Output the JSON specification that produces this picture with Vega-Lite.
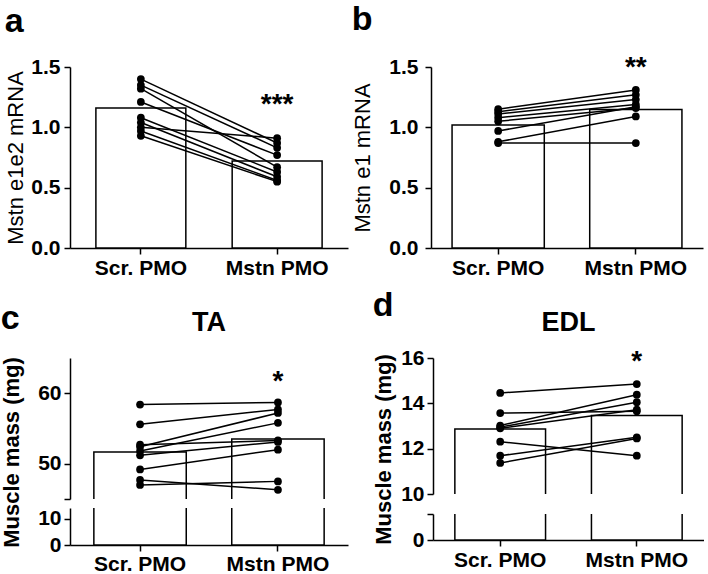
{
  "$schema": "https://vega.github.io/schema/vega-lite/v6.json",
  "background": "white",
  "padding": {"left": 0, "top": 3, "right": 0, "bottom": 0},
  "config": {
    "font": "Liberation Sans",
    "view": {"stroke": null},
    "axis": {
      "grid": false,
      "domainColor": "black", "domainWidth": 1.5,
      "tickColor": "black", "tickWidth": 1.5, "tickSize": 6,
      "labelColor": "black", "labelFont": "Liberation Sans", "labelFontSize": 21, "labelFontWeight": "bold", "labelPadding": 3,
      "titleColor": "black", "titleFont": "Liberation Sans", "titleFontSize": 22, "titleFontWeight": "bold"
    },
    "title": {"color": "black", "font": "Liberation Sans"}
  },
  "datasets": {
    "pa": [
      {"id": 1, "group": "Scr. PMO", "value": 1.40}, {"id": 1, "group": "Mstn PMO", "value": 0.87},
      {"id": 2, "group": "Scr. PMO", "value": 1.35}, {"id": 2, "group": "Mstn PMO", "value": 0.83},
      {"id": 3, "group": "Scr. PMO", "value": 1.32}, {"id": 3, "group": "Mstn PMO", "value": 0.67},
      {"id": 4, "group": "Scr. PMO", "value": 1.21}, {"id": 4, "group": "Mstn PMO", "value": 0.77},
      {"id": 5, "group": "Scr. PMO", "value": 1.08}, {"id": 5, "group": "Mstn PMO", "value": 0.63},
      {"id": 6, "group": "Scr. PMO", "value": 1.04}, {"id": 6, "group": "Mstn PMO", "value": 0.59},
      {"id": 7, "group": "Scr. PMO", "value": 1.00}, {"id": 7, "group": "Mstn PMO", "value": 0.91},
      {"id": 8, "group": "Scr. PMO", "value": 0.97}, {"id": 8, "group": "Mstn PMO", "value": 0.56},
      {"id": 9, "group": "Scr. PMO", "value": 0.93}, {"id": 9, "group": "Mstn PMO", "value": 0.55}
    ],
    "pb": [
      {"id": 1, "group": "Scr. PMO", "value": 1.15}, {"id": 1, "group": "Mstn PMO", "value": 1.31},
      {"id": 2, "group": "Scr. PMO", "value": 1.13}, {"id": 2, "group": "Mstn PMO", "value": 1.27},
      {"id": 3, "group": "Scr. PMO", "value": 1.11}, {"id": 3, "group": "Mstn PMO", "value": 1.23},
      {"id": 4, "group": "Scr. PMO", "value": 1.08}, {"id": 4, "group": "Mstn PMO", "value": 1.19},
      {"id": 5, "group": "Scr. PMO", "value": 1.05}, {"id": 5, "group": "Mstn PMO", "value": 1.16},
      {"id": 6, "group": "Scr. PMO", "value": 0.97}, {"id": 6, "group": "Mstn PMO", "value": 1.17},
      {"id": 7, "group": "Scr. PMO", "value": 0.88}, {"id": 7, "group": "Mstn PMO", "value": 1.09},
      {"id": 8, "group": "Scr. PMO", "value": 0.87}, {"id": 8, "group": "Mstn PMO", "value": 0.87}
    ],
    "pc": [
      {"id": 1, "group": "Scr. PMO", "value": 58.4}, {"id": 1, "group": "Mstn PMO", "value": 58.7},
      {"id": 2, "group": "Scr. PMO", "value": 55.6}, {"id": 2, "group": "Mstn PMO", "value": 57.7},
      {"id": 3, "group": "Scr. PMO", "value": 52.7}, {"id": 3, "group": "Mstn PMO", "value": 53.3},
      {"id": 4, "group": "Scr. PMO", "value": 52.4}, {"id": 4, "group": "Mstn PMO", "value": 57.2},
      {"id": 5, "group": "Scr. PMO", "value": 51.8}, {"id": 5, "group": "Mstn PMO", "value": 55.8},
      {"id": 6, "group": "Scr. PMO", "value": 51.2}, {"id": 6, "group": "Mstn PMO", "value": 53.1},
      {"id": 7, "group": "Scr. PMO", "value": 49.2}, {"id": 7, "group": "Mstn PMO", "value": 52.0},
      {"id": 8, "group": "Scr. PMO", "value": 47.7}, {"id": 8, "group": "Mstn PMO", "value": 46.3},
      {"id": 9, "group": "Scr. PMO", "value": 47.0}, {"id": 9, "group": "Mstn PMO", "value": 47.5}
    ],
    "pd": [
      {"id": 1, "group": "Scr. PMO", "value": 14.46}, {"id": 1, "group": "Mstn PMO", "value": 14.85},
      {"id": 2, "group": "Scr. PMO", "value": 13.57}, {"id": 2, "group": "Mstn PMO", "value": 13.65},
      {"id": 3, "group": "Scr. PMO", "value": 13.02}, {"id": 3, "group": "Mstn PMO", "value": 14.38},
      {"id": 4, "group": "Scr. PMO", "value": 12.95}, {"id": 4, "group": "Mstn PMO", "value": 14.05},
      {"id": 5, "group": "Scr. PMO", "value": 12.90}, {"id": 5, "group": "Mstn PMO", "value": 13.72},
      {"id": 6, "group": "Scr. PMO", "value": 12.31}, {"id": 6, "group": "Mstn PMO", "value": 11.69},
      {"id": 7, "group": "Scr. PMO", "value": 11.69}, {"id": 7, "group": "Mstn PMO", "value": 12.50},
      {"id": 8, "group": "Scr. PMO", "value": 11.37}, {"id": 8, "group": "Mstn PMO", "value": 12.45}
    ],
    "ba": [{"group": "Scr. PMO", "value": 1.16}, {"group": "Mstn PMO", "value": 0.72}],
    "bb": [{"group": "Scr. PMO", "value": 1.02}, {"group": "Mstn PMO", "value": 1.148}],
    "bc": [{"group": "Scr. PMO", "value": 51.65}, {"group": "Mstn PMO", "value": 53.5}],
    "bd": [{"group": "Scr. PMO", "value": 12.87}, {"group": "Mstn PMO", "value": 13.46}],
    "sa": [{"group": "Mstn PMO", "value": 1.116, "label": "***"}],
    "sb": [{"group": "Mstn PMO", "value": 1.423, "label": "**"}],
    "sc": [{"group": "Mstn PMO", "value": 60.5, "label": "*"}],
    "sd": [{"group": "Mstn PMO", "value": 15.47, "label": "*"}]
  },
  "resolve": {"scale": {"x": "independent", "y": "independent"}},
  "spacing": 11,
  "vconcat": [
    {
      "resolve": {"scale": {"x": "independent", "y": "independent"}},
      "spacing": 3,
      "hconcat": [
        {
          "title": {"text": "a", "anchor": "start", "frame": "bounds", "fontSize": 34, "fontWeight": "bold", "offset": 17},
          "width": 278, "height": 181,
          "encoding": {
            "x": {"field": "group", "type": "nominal", "sort": ["Scr. PMO", "Mstn PMO"], "scale": {"paddingInner": 0.34, "paddingOuter": 0.19}, "axis": {"title": null, "labelAngle": 0}},
            "y": {"field": "value", "type": "quantitative", "scale": {"domain": [0, 1.5], "nice": false}, "axis": {"title": "Mstn e1e2 mRNA", "titleFontWeight": "normal", "values": [0, 0.5, 1, 1.5], "format": ".1f", "titlePadding": 3, "labelPadding": 4}}
          },
          "layer": [
            {"data": {"name": "ba"}, "mark": {"type": "bar", "fill": "white", "stroke": "black", "strokeWidth": 1.5}},
            {"data": {"name": "pa"}, "mark": {"type": "line", "color": "black", "strokeWidth": 1.5}, "encoding": {"detail": {"field": "id"}}},
            {"data": {"name": "pa"}, "mark": {"type": "circle", "color": "black", "opacity": 1, "size": 60}},
            {"data": {"name": "sa"}, "mark": {"type": "text", "fontSize": 28, "fontWeight": "bold", "baseline": "alphabetic", "color": "black"}, "encoding": {"text": {"field": "label"}}}
          ]
        },
        {
          "title": {"text": "b", "anchor": "start", "frame": "bounds", "fontSize": 34, "fontWeight": "bold", "offset": 17},
          "width": 272, "height": 181,
          "encoding": {
            "x": {"field": "group", "type": "nominal", "sort": ["Scr. PMO", "Mstn PMO"], "scale": {"paddingInner": 0.33, "paddingOuter": 0.153}, "axis": {"title": null, "labelAngle": 0}},
            "y": {"field": "value", "type": "quantitative", "scale": {"domain": [0, 1.5], "nice": false}, "axis": {"title": "Mstn e1 mRNA", "titleFontWeight": "normal", "values": [0, 0.5, 1, 1.5], "format": ".1f", "titlePadding": 14, "labelPadding": 7}}
          },
          "layer": [
            {"data": {"name": "bb"}, "mark": {"type": "bar", "fill": "white", "stroke": "black", "strokeWidth": 1.5}},
            {"data": {"name": "pb"}, "mark": {"type": "line", "color": "black", "strokeWidth": 1.5}, "encoding": {"detail": {"field": "id"}}},
            {"data": {"name": "pb"}, "mark": {"type": "circle", "color": "black", "opacity": 1, "size": 60}},
            {"data": {"name": "sb"}, "mark": {"type": "text", "fontSize": 28, "fontWeight": "bold", "baseline": "alphabetic", "color": "black"}, "encoding": {"text": {"field": "label"}}}
          ]
        }
      ]
    },
    {
      "resolve": {"scale": {"x": "independent", "y": "independent"}},
      "spacing": 24,
      "hconcat": [
        {
          "title": {"text": "c", "anchor": "start", "frame": "bounds", "fontSize": 34, "fontWeight": "bold", "dy": 31},
          "bounds": "flush",
          "spacing": 9,
          "resolve": {"scale": {"y": "independent"}},
          "vconcat": [
            {
              "title": {"text": "TA", "anchor": "middle", "frame": "group", "fontSize": 27, "fontWeight": "bold", "offset": 20},
              "width": 278, "height": 141,
              "encoding": {
                "x": {"field": "group", "type": "nominal", "sort": ["Scr. PMO", "Mstn PMO"], "scale": {"paddingInner": 0.33, "paddingOuter": 0.173}, "axis": null},
                "y": {"field": "value", "type": "quantitative", "scale": {"domain": [45, 65], "nice": false, "zero": false}, "axis": {"title": "Muscle mass (mg)", "titleY": 94, "values": [45, 50, 60], "labelExpr": "datum.value == 45 ? '' : datum.label", "titlePadding": 14}}
              },
              "layer": [
                {"data": {"name": "bc"}, "mark": {"type": "bar", "fill": "white", "stroke": "black", "strokeWidth": 1.5, "clip": true}},
                {"data": {"name": "pc"}, "mark": {"type": "line", "color": "black", "strokeWidth": 1.5}, "encoding": {"detail": {"field": "id"}}},
                {"data": {"name": "pc"}, "mark": {"type": "circle", "color": "black", "opacity": 1, "size": 60}},
                {"data": {"name": "sc"}, "mark": {"type": "text", "fontSize": 28, "fontWeight": "bold", "baseline": "alphabetic", "color": "black"}, "encoding": {"text": {"field": "label"}}}
              ]
            },
            {
              "width": 278, "height": 37,
              "data": {"name": "bc"},
              "mark": {"type": "bar", "fill": "white", "stroke": "black", "strokeWidth": 1.5, "clip": true},
              "encoding": {
                "x": {"field": "group", "type": "nominal", "sort": ["Scr. PMO", "Mstn PMO"], "scale": {"paddingInner": 0.33, "paddingOuter": 0.173}, "axis": {"title": null, "labelAngle": 0, "labelPadding": 2}},
                "y": {"field": "value", "type": "quantitative", "scale": {"domain": [0, 14], "nice": false}, "axis": {"title": null, "values": [0, 10]}}
              }
            }
          ]
        },
        {
          "title": {"text": "d", "anchor": "start", "frame": "bounds", "fontSize": 34, "fontWeight": "bold", "dy": 40, "offset": 26},
          "bounds": "flush",
          "spacing": 20,
          "resolve": {"scale": {"y": "independent"}},
          "vconcat": [
            {
              "title": {"text": "EDL", "anchor": "middle", "frame": "group", "fontSize": 27, "fontWeight": "bold", "offset": 10},
              "width": 271, "height": 136,
              "encoding": {
                "x": {"field": "group", "type": "nominal", "sort": ["Scr. PMO", "Mstn PMO"], "scale": {"paddingInner": 0.336, "paddingOuter": 0.16}, "axis": null},
                "y": {"field": "value", "type": "quantitative", "scale": {"domain": [10, 16], "nice": false, "zero": false}, "axis": {"title": "Muscle mass (mg)", "titleY": 91, "values": [10, 12, 14, 16], "titlePadding": 5}}
              },
              "layer": [
                {"data": {"name": "bd"}, "mark": {"type": "bar", "fill": "white", "stroke": "black", "strokeWidth": 1.5, "clip": true}},
                {"data": {"name": "pd"}, "mark": {"type": "line", "color": "black", "strokeWidth": 1.5}, "encoding": {"detail": {"field": "id"}}},
                {"data": {"name": "pd"}, "mark": {"type": "circle", "color": "black", "opacity": 1, "size": 60}},
                {"data": {"name": "sd"}, "mark": {"type": "text", "fontSize": 28, "fontWeight": "bold", "baseline": "alphabetic", "color": "black"}, "encoding": {"text": {"field": "label"}}}
              ]
            },
            {
              "width": 271, "height": 26,
              "data": {"name": "bd"},
              "mark": {"type": "bar", "fill": "white", "stroke": "black", "strokeWidth": 1.5, "clip": true},
              "encoding": {
                "x": {"field": "group", "type": "nominal", "sort": ["Scr. PMO", "Mstn PMO"], "scale": {"paddingInner": 0.336, "paddingOuter": 0.16}, "axis": {"title": null, "labelAngle": 0}},
                "y": {"field": "value", "type": "quantitative", "scale": {"domain": [0, 3], "nice": false}, "axis": {"title": null, "values": [0, 3], "labelExpr": "datum.value == 3 ? '' : datum.label"}}
              }
            }
          ]
        }
      ]
    }
  ]
}
